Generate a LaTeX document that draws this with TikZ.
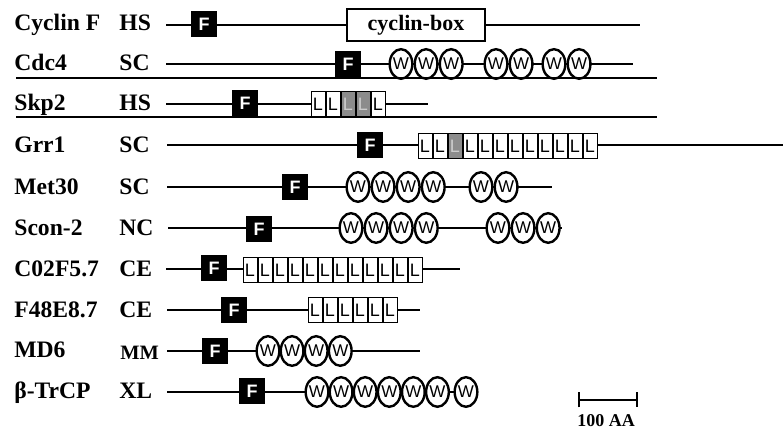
\documentclass[tikz,border=0pt]{standalone}
\usepackage{fontspec}
\setmainfont{Liberation Serif}
\setsansfont{Liberation Sans}
\usetikzlibrary{shapes.geometric, arrows.meta, positioning, backgrounds}

\begin{document}
\begin{tikzpicture}[
    x=0.5pt, y=-0.5pt,
    % domain styles
    fbox/.style={
        rectangle,
        fill=black,
        minimum size=13pt,
        inner sep=0pt,
        text=white,
        font=\sffamily\bfseries\fontsize{9}{9}\selectfont
    },
    wdom/.style={
        ellipse,
        draw=black,
        fill=white,
        line width=1.2pt,
        minimum width=11.3pt,
        minimum height=14.8pt,
        inner sep=0pt,
        font=\sffamily\fontsize{8.5}{8.5}\selectfont
    },
    ldom/.style={
        rectangle,
        draw=black,
        fill=white,
        line width=0.5pt,
        minimum width=7pt,
        minimum height=12.5pt,
        inner sep=0pt,
        font=\sffamily\fontsize{9}{9}\selectfont
    },
    ldark/.style={ldom, fill=black!45, text=black!20},
    cycbox/.style={
        rectangle,
        draw=black,
        fill=white,
        line width=0.8pt,
        minimum width=69pt,
        minimum height=16pt,
        inner sep=0pt,
        font=\bfseries\fontsize{11}{12}\selectfont
    },
    backbone/.style={draw=black, line width=1pt},
    sepline/.style={draw=black, line width=0.8pt},
    namelab/.style={anchor=base west, inner sep=0pt, font=\bfseries\fontsize{11.8}{14}\selectfont}
]
    \useasboundingbox (0,0) rectangle (783,431);

    % ==========================================
    % LABELS (organism and species)
    % ==========================================
    \node[namelab] (nCyc) at (14,31) {Cyclin F};
    \node[namelab] (sCyc) at (119,31) {HS};
    \node[namelab] (nCdc) at (14,71) {Cdc4};
    \node[namelab] (sCdc) at (119,71) {SC};
    \node[namelab] (nSkp) at (14,111) {Skp2};
    \node[namelab] (sSkp) at (119,111) {HS};
    \node[namelab] (nGrr) at (14,153) {Grr1};
    \node[namelab] (sGrr) at (119,153) {SC};
    \node[namelab] (nMet) at (14,195) {Met30};
    \node[namelab] (sMet) at (119,195) {SC};
    \node[namelab] (nScon) at (14,236) {Scon-2};
    \node[namelab] (sScon) at (119,236) {NC};
    \node[namelab] (nC02) at (14,277) {C02F5.7};
    \node[namelab] (sC02) at (119,277) {CE};
    \node[namelab] (nF48) at (14,318) {F48E8.7};
    \node[namelab] (sF48) at (119,318) {CE};
    \node[namelab] (nMd) at (14,358) {MD6};
    \node[namelab, font=\bfseries\fontsize{10.2}{12}\selectfont] (sMd) at (120,360) {MM};
    \node[namelab] (nTrcp) at (14,399) {β-TrCP};
    \node[namelab] (sTrcp) at (119,399) {XL};

    % ==========================================
    % BACKBONE END POINTS
    % ==========================================
    \coordinate (cycS) at (166,25);  \coordinate (cycE) at (640,25);
    \coordinate (cdcS) at (166,64);  \coordinate (cdcE) at (633,64);
    \coordinate (skpS) at (166,104); \coordinate (skpE) at (428,104);
    \coordinate (grrS) at (167,145); \coordinate (grrE) at (783,145);
    \coordinate (metS) at (167,187); \coordinate (metE) at (552,187);
    \coordinate (sconS) at (168,228); \coordinate (sconE) at (562,228);
    \coordinate (c02S) at (166,269); \coordinate (c02E) at (460,269);
    \coordinate (f48S) at (167,310); \coordinate (f48E) at (420,310);
    \coordinate (mdS) at (167,351);  \coordinate (mdE) at (420,351);
    \coordinate (trcpS) at (167,392);

    % ==========================================
    % F-BOXES
    % ==========================================
    \node[fbox] (cycF) at (204,24) {F};
    \node[fbox] (cdcF) at (348,64) {F};
    \node[fbox] (skpF) at (245,103) {F};
    \node[fbox] (grrF) at (370,145) {F};
    \node[fbox] (metF) at (295,187) {F};
    \node[fbox] (sconF) at (259,229) {F};
    \node[fbox] (c02F) at (214,268) {F};
    \node[fbox] (f48F) at (234,310) {F};
    \node[fbox] (mdF) at (215,351) {F};
    \node[fbox] (trcpF) at (252,391) {F};

    % ==========================================
    % CYCLIN F
    % ==========================================
    \node[cycbox] (cycBox) at (416,25) {cyclin-box};

    % ==========================================
    % CDC4 (WD40 repeats)
    % ==========================================
    \node[wdom] (cdcW1) at (401,64) {W};
    \node[wdom, right=0pt of cdcW1] (cdcW2) {W};
    \node[wdom, right=0pt of cdcW2] (cdcW3) {W};
    \node[wdom] (cdcW4) at (496,64) {W};
    \node[wdom, right=0pt of cdcW4] (cdcW5) {W};
    \node[wdom] (cdcW6) at (554,64) {W};
    \node[wdom, right=0pt of cdcW6] (cdcW7) {W};

    % ==========================================
    % SKP2 (LRRs)
    % ==========================================
    \node[ldom] (skpL1) at (318,104) {L};
    \node[ldom, right=0pt of skpL1] (skpL2) {L};
    \node[ldark, right=0pt of skpL2] (skpL3) {L};
    \node[ldark, right=0pt of skpL3] (skpL4) {L};
    \node[ldom, right=0pt of skpL4] (skpL5) {L};

    % ==========================================
    % GRR1 (LRRs)
    % ==========================================
    \node[ldom] (grrL1) at (425,146) {L};
    \node[ldom, right=0pt of grrL1] (grrL2) {L};
    \node[ldark, right=0pt of grrL2] (grrL3) {L};
    \node[ldom, right=0pt of grrL3] (grrL4) {L};
    \node[ldom, right=0pt of grrL4] (grrL5) {L};
    \node[ldom, right=0pt of grrL5] (grrL6) {L};
    \node[ldom, right=0pt of grrL6] (grrL7) {L};
    \node[ldom, right=0pt of grrL7] (grrL8) {L};
    \node[ldom, right=0pt of grrL8] (grrL9) {L};
    \node[ldom, right=0pt of grrL9] (grrL10) {L};
    \node[ldom, right=0pt of grrL10] (grrL11) {L};
    \node[ldom, right=0pt of grrL11] (grrL12) {L};

    % ==========================================
    % MET30 / SCON-2 (WD40 repeats)
    % ==========================================
    \node[wdom] (metW1) at (358,187) {W};
    \node[wdom, right=0pt of metW1] (metW2) {W};
    \node[wdom, right=0pt of metW2] (metW3) {W};
    \node[wdom, right=0pt of metW3] (metW4) {W};
    \node[wdom] (metW5) at (481,187) {W};
    \node[wdom, right=0pt of metW5] (metW6) {W};

    \node[wdom] (sconW1) at (351,228) {W};
    \node[wdom, right=0pt of sconW1] (sconW2) {W};
    \node[wdom, right=0pt of sconW2] (sconW3) {W};
    \node[wdom, right=0pt of sconW3] (sconW4) {W};
    \node[wdom] (sconW5) at (498,228) {W};
    \node[wdom, right=0pt of sconW5] (sconW6) {W};
    \node[wdom, right=0pt of sconW6] (sconW7) {W};

    % ==========================================
    % C02F5.7 / F48E8.7 (LRRs)
    % ==========================================
    \node[ldom] (c02L1) at (250,270) {L};
    \node[ldom, right=0pt of c02L1] (c02L2) {L};
    \node[ldom, right=0pt of c02L2] (c02L3) {L};
    \node[ldom, right=0pt of c02L3] (c02L4) {L};
    \node[ldom, right=0pt of c02L4] (c02L5) {L};
    \node[ldom, right=0pt of c02L5] (c02L6) {L};
    \node[ldom, right=0pt of c02L6] (c02L7) {L};
    \node[ldom, right=0pt of c02L7] (c02L8) {L};
    \node[ldom, right=0pt of c02L8] (c02L9) {L};
    \node[ldom, right=0pt of c02L9] (c02L10) {L};
    \node[ldom, right=0pt of c02L10] (c02L11) {L};
    \node[ldom, right=0pt of c02L11] (c02L12) {L};

    \node[ldom] (f48L1) at (315,310) {L};
    \node[ldom, right=0pt of f48L1] (f48L2) {L};
    \node[ldom, right=0pt of f48L2] (f48L3) {L};
    \node[ldom, right=0pt of f48L3] (f48L4) {L};
    \node[ldom, right=0pt of f48L4] (f48L5) {L};
    \node[ldom, right=0pt of f48L5] (f48L6) {L};

    % ==========================================
    % MD6 / BETA-TRCP (WD40 repeats)
    % ==========================================
    \node[wdom] (mdW1) at (268,351) {W};
    \node[wdom, right=-0.5pt of mdW1] (mdW2) {W};
    \node[wdom, right=-0.5pt of mdW2] (mdW3) {W};
    \node[wdom, right=-0.5pt of mdW3] (mdW4) {W};

    \node[wdom] (trcpW1) at (317,392) {W};
    \node[wdom, right=-0.5pt of trcpW1] (trcpW2) {W};
    \node[wdom, right=-0.5pt of trcpW2] (trcpW3) {W};
    \node[wdom, right=-0.5pt of trcpW3] (trcpW4) {W};
    \node[wdom, right=-0.5pt of trcpW4] (trcpW5) {W};
    \node[wdom, right=-0.5pt of trcpW5] (trcpW6) {W};
    \node[wdom] (trcpW7) at (466,392) {W};

    % ==========================================
    % BACKBONES (behind the domains)
    % ==========================================
    \begin{scope}[on background layer]
        \draw[backbone] (cycS) -- (cycE);
        \draw[backbone] (cdcS) -- (cdcE);
        \draw[backbone] (skpS) -- (skpE);
        \draw[backbone] (grrS) -- (grrE);
        \draw[backbone] (metS) -- (metE);
        \draw[backbone] (sconS) -- (sconE);
        \draw[backbone] (c02S) -- (c02E);
        \draw[backbone] (f48S) -- (f48E);
        \draw[backbone] (mdS) -- (mdE);
        \draw[backbone] (trcpS) -- (trcpW7.center);
    \end{scope}

    % ==========================================
    % SEPARATORS AND SCALE BAR
    % ==========================================
    \coordinate (sepA1) at (16,78);  \coordinate (sepA2) at (657,78);
    \coordinate (sepB1) at (16,117); \coordinate (sepB2) at (657,117);
    \draw[sepline] (sepA1) -- (sepA2);
    \draw[sepline] (sepB1) -- (sepB2);

    \coordinate (barL) at (578,400);
    \coordinate (barR) at (638,400);
    \draw[line width=1pt, {Bar[width=7.5pt]}-{Bar[width=7.5pt]}] (barL) -- (barR);
    \node[namelab, font=\bfseries\fontsize{9}{10}\selectfont] (barLab) at (577,427) {100 AA};

\end{tikzpicture}
\end{document}
